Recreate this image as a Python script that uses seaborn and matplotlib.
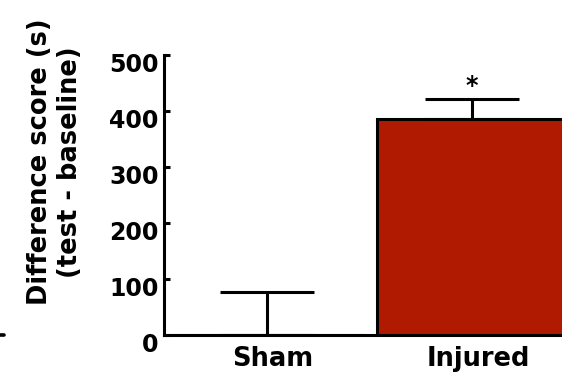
import matplotlib
matplotlib.use("Agg")
import matplotlib.pyplot as plt
from matplotlib.lines import Line2D
from matplotlib.transforms import ScaledTranslation
import seaborn as sns
import pandas as pd

groups = ["Sham", "Injured"]
means = [0, 386]
sem = [77, 36]
bar_colors = ["white", "#B01A00"]
yticks = [0, 100, 200, 300, 400, 500]

sns.set_theme(style="white", rc={"text.color": "black", "axes.labelcolor": "black",
                                 "xtick.color": "black", "ytick.color": "black"})
plt.rcParams["font.family"] = ["DejaVu Sans"]
plt.rcParams["font.weight"] = "bold"

fig = plt.figure(figsize=(5.62, 3.86), dpi=100)
ax = fig.add_axes([0.292, 0.1321, 0.708, 0.7254])

df = pd.DataFrame({"group": groups, "score": means})
sns.barplot(data=df, x="group", y="score", hue="group", palette=bar_colors,
            legend=False, width=0.93, edgecolor="black", linewidth=2.2,
            saturation=1, errorbar=None, ax=ax)

ax.errorbar(range(len(groups)), means, yerr=[[0] * len(sem), sem], fmt="none",
            ecolor="black", elinewidth=2.2, capsize=34, capthick=2.2, zorder=3)

ax.text(1, means[1] + sem[1] + 1, "*", ha="center", va="bottom",
        fontsize=17, fontweight="bold", color="black")

ax.set_xlim(-0.502, 1.44)
ax.set_ylim(0, 500)
ax.set_yticks(yticks)
ax.set_yticklabels([str(t) for t in yticks], fontsize=17, fontweight="bold")
ax.set_xticks(range(len(groups)))
ax.set_xticklabels(groups, fontsize=18.5, fontweight="bold")
ax.tick_params(axis="y", direction="in", length=4, width=2.2, pad=4, left=True)
ax.tick_params(axis="x", length=0, pad=8)

# nudge tick labels slightly
for lab in ax.get_yticklabels():
    lab.set_transform(lab.get_transform() + ScaledTranslation(0, -0.07, fig.dpi_scale_trans))
for lab in ax.get_xticklabels():
    lab.set_transform(lab.get_transform() + ScaledTranslation(0.06, 0, fig.dpi_scale_trans))

for side in ["top", "right"]:
    ax.spines[side].set_visible(False)
for side in ["left", "bottom"]:
    ax.spines[side].set_color("black")
    ax.spines[side].set_linewidth(2.2)

ax.set_xlabel("")
ax.set_ylabel("")
fig.text(55 / 562, 1 - 162 / 386, "Difference score (s)\n(test - baseline)",
         rotation=90, ha="center", va="center", multialignment="center",
         fontsize=18.5, fontweight="bold", linespacing=1.2, color="black")

fig.add_artist(Line2D([0.0, 0.007], [0.1321, 0.1321], color="black", lw=2.6,
                      transform=fig.transFigure))

fig.savefig("out.png", dpi=100)
